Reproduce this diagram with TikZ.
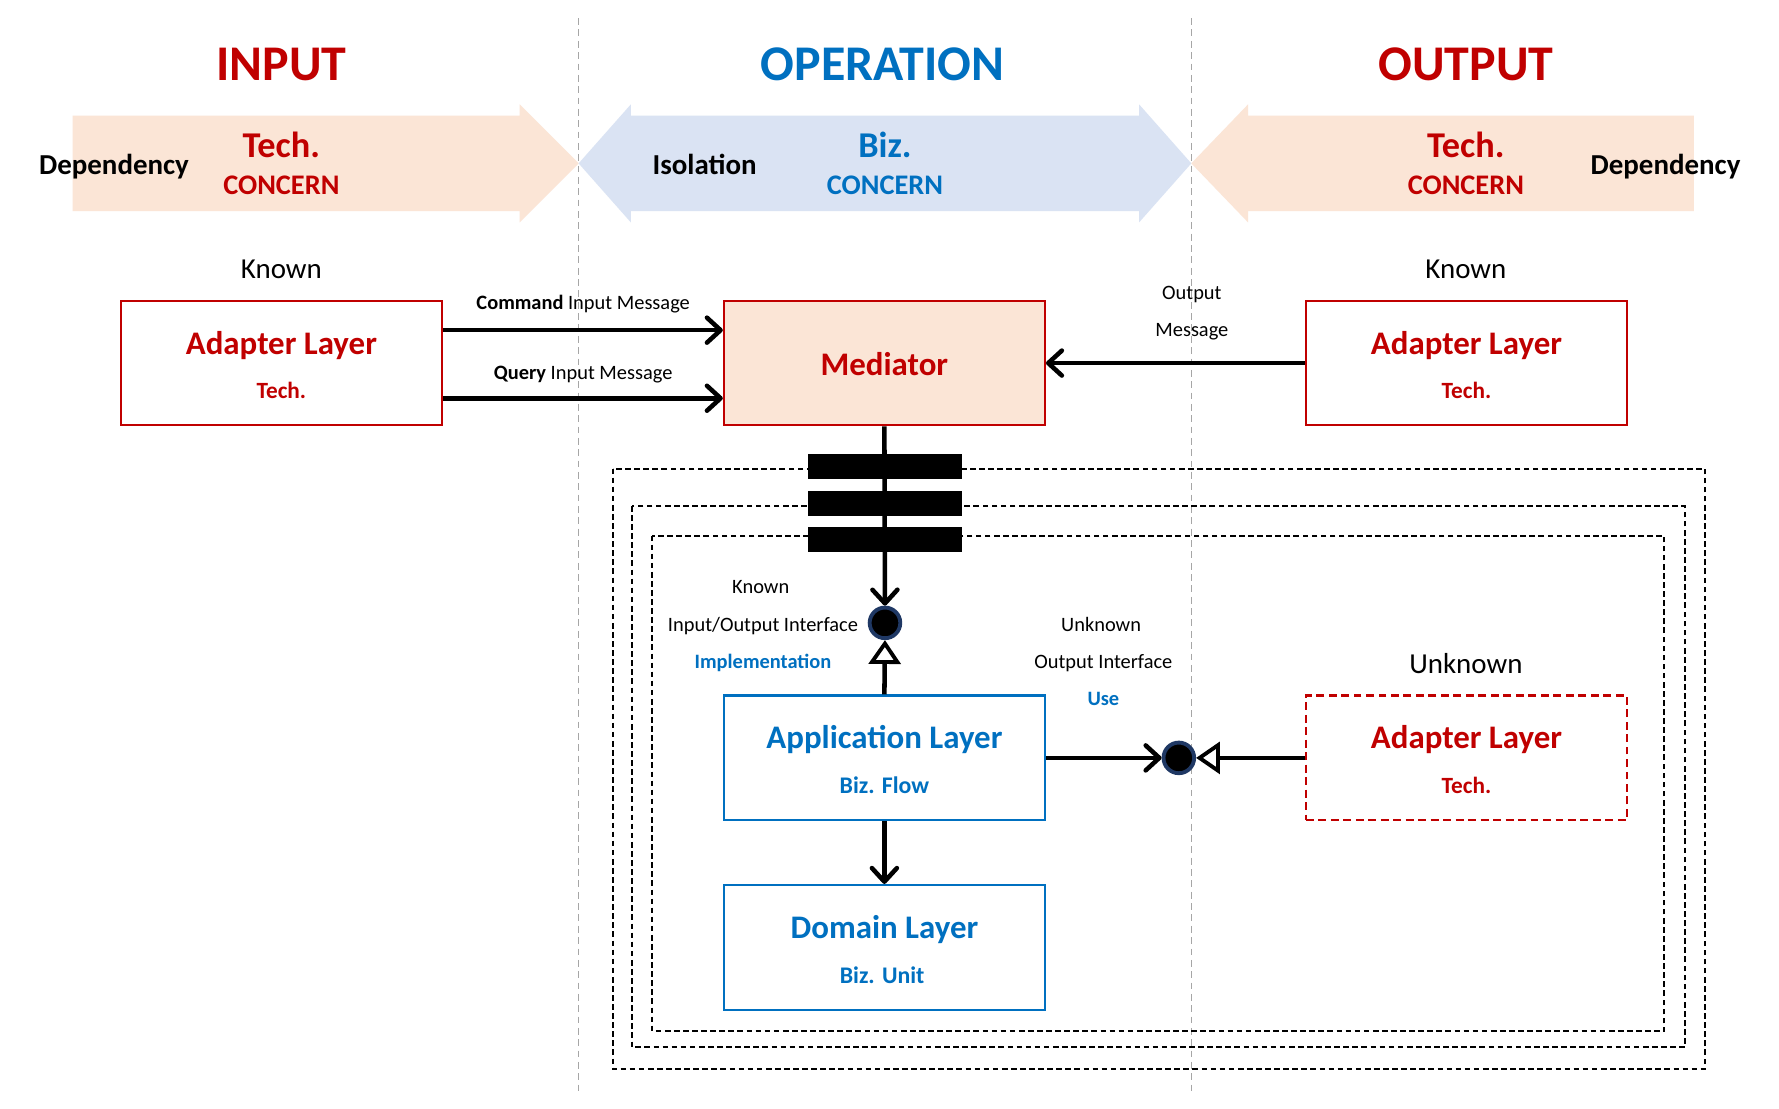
\documentclass[tikz,border=0pt]{standalone}
\usepackage{fontspec}
\setmainfont{Carlito}
\usetikzlibrary{arrows.meta}
\definecolor{techred}{HTML}{C00000}
\definecolor{bizblue}{HTML}{0070C0}
\definecolor{techfill}{HTML}{FBE5D6}
\definecolor{bizfill}{HTML}{DAE3F3}
\definecolor{portnavy}{HTML}{1F3864}
\newcommand{\sz}[1]{\fontsize{#1}{#1}\selectfont}

\begin{document}
\begin{tikzpicture}[x=1pt,y=-1pt,
  txt/.style={anchor=base,inner sep=0pt},
  layerbox/.style={draw=#1,line width=1.8pt,minimum width=283pt,minimum height=110pt,inner sep=0pt},
  ring/.style={line width=1.8pt,dash pattern=on 5pt off 3pt},
  divider/.style={draw=black!35,line width=1.2pt,dash pattern=on 6pt off 4pt},
  flow/.style={line width=4pt,-{Straight Barb[length=12pt,width=22pt,round]}},
  realize/.style={line width=4pt,-{Triangle[open,length=21pt,width=28pt,line width=3.4pt]}},
  port/.style={circle,fill=black,draw=portnavy,line width=3.4pt,minimum size=27pt,inner sep=0pt},
  bar/.style={fill=black,minimum width=136pt,minimum height=22pt,inner sep=0pt}]
\path[use as bounding box,fill=white] (0,0) rectangle (1568,977);

\fill[techfill] (64,102) -- (458,102) -- (458,92) -- (510,144) -- (458,196) -- (458,186) -- (64,186) -- cycle;
\fill[bizfill] (510,144) -- (556,92) -- (556,102) -- (1004,102) -- (1004,92) -- (1050,144) -- (1004,196) -- (1004,186) -- (556,186) -- (556,196) -- cycle;
\fill[techfill] (1050,144) -- (1100,92) -- (1100,102) -- (1493,102) -- (1493,186) -- (1100,186) -- (1100,196) -- cycle;

\draw[divider] (510,16) -- (510,964);
\draw[divider] (1050,16) -- (1050,964);

\node[txt,text=techred,font=\sz{44}\bfseries] (hin) at (248,71) {INPUT};
\node[txt,text=bizblue,font=\sz{44}\bfseries] (hop) at (778,71) {OPERATION};
\node[txt,text=techred,font=\sz{44}\bfseries] (hout) at (1292,71) {OUTPUT};

\node[txt,font=\sz{25.5}\bfseries] (depin) at (100.5,153.5) {Dependency};
\node[txt,text=techred,font=\sz{32}\bfseries] (techin) at (248,139) {Tech.};
\node[txt,text=techred,font=\sz{25}\bfseries] (concin) at (248,171.5) {CONCERN};
\node[txt,font=\sz{25.5}\bfseries] (iso) at (621,153.5) {Isolation};
\node[txt,text=bizblue,font=\sz{32}\bfseries] (biz) at (780,139) {Biz.};
\node[txt,text=bizblue,font=\sz{25}\bfseries] (concop) at (780,171.5) {CONCERN};
\node[txt,text=techred,font=\sz{32}\bfseries] (techout) at (1292,139) {Tech.};
\node[txt,text=techred,font=\sz{25}\bfseries] (concout) at (1292,171.5) {CONCERN};
\node[txt,font=\sz{25.5}\bfseries] (depout) at (1468,153.5) {Dependency};

\node[txt,font=\sz{25.5}] (knin) at (248,245.5) {Known};
\node[txt,font=\sz{25.5}] (knout) at (1292,245.5) {Known};
\node[txt,font=\sz{25.5}] (unk) at (1292,593.5) {Unknown};

\draw[ring] (540,413) rectangle (1503,942);
\draw[ring] (557,446) rectangle (1485,923);
\draw[ring] (575,472) rectangle (1467,909);

\node[layerbox=techred] (adin) at (248,320) {};
\node[layerbox=techred,fill=techfill] (med) at (779.5,320) {};
\node[layerbox=techred] (adout) at (1292.5,320) {};
\node[layerbox=bizblue,fill=white] (app) at (779.5,668) {};
\node[layerbox=bizblue,fill=white] (dom) at (779.5,835) {};
\node[layerbox=techred,dash pattern=on 7pt off 4pt] (adunk) at (1292.5,668) {};

\node[txt,text=techred,font=\sz{29}\bfseries] (adinT) at (248,312.5) {Adapter Layer};
\node[txt,text=techred,font=\sz{20.5}\bfseries] (adinS) at (248,351.5) {Tech.};
\node[txt,text=techred,font=\sz{29}\bfseries] (medT) at (779.5,331) {Mediator};
\node[txt,text=techred,font=\sz{29}\bfseries] (adoutT) at (1292.5,312.5) {Adapter Layer};
\node[txt,text=techred,font=\sz{20.5}\bfseries] (adoutS) at (1292.5,351.5) {Tech.};
\node[txt,text=bizblue,font=\sz{29}\bfseries] (appT) at (779.5,660) {Application Layer};
\node[txt,text=bizblue,font=\sz{21}\bfseries] (appS) at (779.5,699.5) {Biz. Flow};
\node[txt,text=bizblue,font=\sz{29}\bfseries] (domT) at (779.5,827) {Domain Layer};
\node[txt,text=bizblue,font=\sz{21}\bfseries] (domS) at (777.5,867) {Biz. Unit};
\node[txt,text=techred,font=\sz{29}\bfseries] (adunkT) at (1292.5,660) {Adapter Layer};
\node[txt,text=techred,font=\sz{20.5}\bfseries] (adunkS) at (1292.5,699.5) {Tech.};

\node[txt,font=\sz{18}] (cmdlbl) at (514,272.5) {\textbf{Command} Input Message};
\node[txt,font=\sz{18}] (qrylbl) at (514,334.5) {\textbf{Query} Input Message};
\node[txt,font=\sz{18}] (outlbl1) at (1050.5,264) {Output};
\node[txt,font=\sz{18}] (outlbl2) at (1050.5,297) {Message};

\node[txt,font=\sz{18}] (ioA) at (670.5,523.5) {Known};
\node[txt,font=\sz{18}] (ioB) at (672.5,557) {Input/Output Interface};
\node[txt,text=bizblue,font=\sz{18}\bfseries] (ioC) at (672.5,589.5) {Implementation};
\node[txt,font=\sz{18}] (ouA) at (970.5,556.5) {Unknown};
\node[txt,font=\sz{18}] (ouB) at (972.5,589.5) {Output Interface};
\node[txt,text=bizblue,font=\sz{18}\bfseries] (ouC) at (972.5,622) {Use};

\node[port] (ifio) at (780,549) {};
\node[port] (ifout) at (1039,668) {};

\draw[flow] ([yshift=29pt]adin.east) -- ([yshift=29pt]med.west);
\draw[flow] ([yshift=-31pt]adin.east) -- ([yshift=-31pt]med.west);
\draw[flow] (adout.west) -- (med.east);
\draw[flow] (med.south) -- (ifio.north);
\draw[realize] (app.north) -- (ifio.south);
\draw[flow] (app.east) -- (ifout.west);
\draw[realize] (adunk.west) -- (ifout.east);
\draw[flow] (app.south) -- (dom.north);

\node[bar] (bar1) at (780,411) {};
\node[bar] (bar2) at (780,443.5) {};
\node[bar] (bar3) at (780,475.5) {};
\end{tikzpicture}
\end{document}
